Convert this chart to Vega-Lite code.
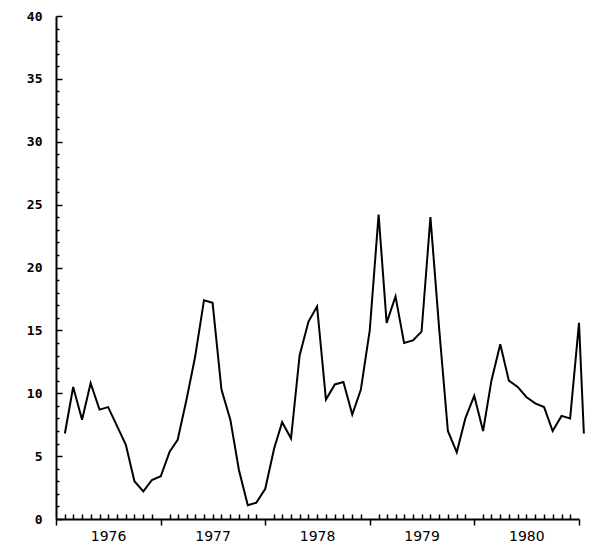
{
  "$schema": "https://vega.github.io/schema/vega-lite/v6.json",
  "autosize": "none",
  "width": 523,
  "height": 503,
  "padding": {"left": 56, "top": 16, "right": 21, "bottom": 31},
  "background": "white",
  "config": {"view": {"stroke": null}},
  "data": {
    "values": [
      {"date": "1976-02-01", "value": 6.8},
      {"date": "1976-03-01", "value": 10.5},
      {"date": "1976-04-01", "value": 7.9},
      {"date": "1976-05-01", "value": 10.8},
      {"date": "1976-06-01", "value": 8.7},
      {"date": "1976-07-01", "value": 8.9},
      {"date": "1976-08-01", "value": 7.4},
      {"date": "1976-09-01", "value": 5.9},
      {"date": "1976-10-01", "value": 3.0},
      {"date": "1976-11-01", "value": 2.2},
      {"date": "1976-12-01", "value": 3.1},
      {"date": "1977-01-01", "value": 3.4},
      {"date": "1977-02-01", "value": 5.35},
      {"date": "1977-03-01", "value": 6.3},
      {"date": "1977-04-01", "value": 9.5},
      {"date": "1977-05-01", "value": 12.9},
      {"date": "1977-06-01", "value": 17.4},
      {"date": "1977-07-01", "value": 17.2},
      {"date": "1977-08-01", "value": 10.3},
      {"date": "1977-09-01", "value": 7.9},
      {"date": "1977-10-01", "value": 3.9},
      {"date": "1977-11-01", "value": 1.1},
      {"date": "1977-12-01", "value": 1.3},
      {"date": "1978-01-01", "value": 2.4},
      {"date": "1978-02-01", "value": 5.6},
      {"date": "1978-03-01", "value": 7.7},
      {"date": "1978-04-01", "value": 6.4},
      {"date": "1978-05-01", "value": 13.0},
      {"date": "1978-06-01", "value": 15.7},
      {"date": "1978-07-01", "value": 16.9},
      {"date": "1978-08-01", "value": 9.5},
      {"date": "1978-09-01", "value": 10.7},
      {"date": "1978-10-01", "value": 10.9},
      {"date": "1978-11-01", "value": 8.3},
      {"date": "1978-12-01", "value": 10.3},
      {"date": "1979-01-01", "value": 15.0},
      {"date": "1979-02-01", "value": 24.2},
      {"date": "1979-03-01", "value": 15.6},
      {"date": "1979-04-01", "value": 17.7},
      {"date": "1979-05-01", "value": 14.0},
      {"date": "1979-06-01", "value": 14.2},
      {"date": "1979-07-01", "value": 14.9},
      {"date": "1979-08-01", "value": 24.0},
      {"date": "1979-09-01", "value": 15.0},
      {"date": "1979-10-01", "value": 7.0},
      {"date": "1979-11-01", "value": 5.3},
      {"date": "1979-12-01", "value": 8.0},
      {"date": "1980-01-01", "value": 9.8},
      {"date": "1980-02-01", "value": 7.0},
      {"date": "1980-03-01", "value": 11.0},
      {"date": "1980-04-01", "value": 13.9},
      {"date": "1980-05-01", "value": 11.0},
      {"date": "1980-06-01", "value": 10.5},
      {"date": "1980-07-01", "value": 9.7},
      {"date": "1980-08-01", "value": 9.2},
      {"date": "1980-09-01", "value": 8.9},
      {"date": "1980-10-01", "value": 7.0},
      {"date": "1980-11-01", "value": 8.2},
      {"date": "1980-12-01", "value": 8.0},
      {"date": "1981-01-01", "value": 15.6},
      {"date": "1981-01-18", "value": 6.8}
    ]
  },
  "mark": {"type": "line", "color": "black", "strokeWidth": 2, "clip": false},
  "encoding": {
    "x": {
      "field": "date",
      "type": "temporal",
      "scale": {"type": "utc", "domain": [{"year": 1976, "month": 1, "date": 1, "utc": true}, {"year": 1981, "month": 1, "date": 1, "utc": true}], "nice": false},
      "axis": {
        "title": null,
        "grid": false,
        "tickCount": {"interval": "month", "step": 1},
        "labelExpr": "utcmonth(datum.value) === 6 ? utcFormat(datum.value, '%Y') : ''",
        "labelOverlap": false,
        "labelFlush": false,
        "labelFont": "DejaVu Sans",
        "labelFontSize": 14,
        "labelColor": "black",
        "labelPadding": 15,
        "domainColor": "black",
        "domainWidth": 2,
        "tickColor": "black",
        "tickWidth": 1.5,
        "tickSize": {"condition": {"test": "utcmonth(datum.value) === 0", "value": 6}, "value": -5}
      }
    },
    "y": {
      "field": "value",
      "type": "quantitative",
      "scale": {"domain": [0, 40], "nice": false},
      "axis": {
        "title": null,
        "grid": false,
        "values": [0,1,2,3,4,5,6,7,8,9,10,11,12,13,14,15,16,17,18,19,20,21,22,23,24,25,26,27,28,29,30,31,32,33,34,35,36,37,38,39,40],
        "labelExpr": "datum.value % 5 === 0 ? datum.label : ''",
        "labelOverlap": false,
        "labelFlush": false,
        "labelFont": "DejaVu Sans Mono",
        "labelFontWeight": "bold",
        "labelFontSize": 13,
        "labelColor": "black",
        "labelPadding": 20,
        "domainColor": "black",
        "domainWidth": 2,
        "tickColor": "black",
        "tickWidth": 1.5,
        "tickSize": {"condition": {"test": "datum.value % 5 === 0", "value": -6}, "value": -3}
      }
    }
  }
}
